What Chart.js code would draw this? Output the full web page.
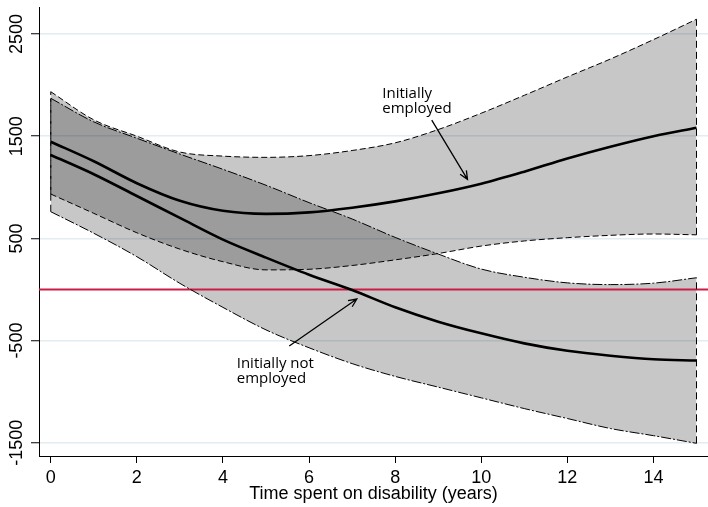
<!DOCTYPE html>
<html>
<head>
<meta charset="utf-8">
<script src="https://cdn.jsdelivr.net/npm/chart.js@4.4.0/dist/chart.umd.min.js"></script>
<style>
  html, body { margin: 0; padding: 0; background: #fff; overflow: hidden; }
  canvas { display: block; }
</style>
</head>
<body>
<canvas id="c" width="708" height="507"></canvas>
<script>
// Years since entering disability
const years = [0, 1, 2, 3, 4, 5, 6, 7, 8, 9, 10, 11, 12, 13, 14, 15];

// Initially employed: fitted effect and confidence band
const employedMean = [1446, 1255, 1040, 868, 770, 740, 755, 800, 862, 941, 1035, 1153, 1282, 1397, 1500, 1583];
const employedLow  = [934, 745, 555, 395, 272, 192, 198, 235, 290, 352, 425, 475, 507, 530, 543, 535];
const employedHigh = [1935, 1660, 1500, 1345, 1305, 1293, 1310, 1360, 1435, 1565, 1725, 1900, 2080, 2255, 2445, 2644];

// Initially not employed: fitted effect and confidence band
const notEmployedMean = [1316, 1128, 915, 700, 488, 312, 145, -5, -174, -315, -429, -527, -600, -648, -683, -695];
const notEmployedLow  = [761, 550, 321, 60, -175, -395, -570, -725, -850, -955, -1060, -1165, -1262, -1360, -1430, -1505];
const notEmployedHigh = [1871, 1640, 1480, 1325, 1176, 1020, 850, 690, 510, 347, 200, 120, 65, 48, 62, 115];

// Axis ticks and limits
const xTicks = [0, 2, 4, 6, 8, 10, 12, 14];
const yTicks = [-1500, -500, 500, 1500, 2500];
const xMin = -0.273, xMax = 15.267;
const yMin = -1629, yMax = 2764;
const referenceValue = 0;
const xTitle = 'Time spent on disability (years)';

// Callout labels, anchored in data units
const callouts = [
  { lines: ['Initially', 'employed'], text: [7.70, 1874], from: [8.85, 1658], to: [9.68, 1078] },
  { lines: ['Initially not', 'employed'], text: [4.32, -771], from: [5.54, -553], to: [7.11, -93] }
];

const pts = arr => years.map((x, i) => ({ x: x, y: arr[i] }));
const last = years.length - 1;
const edge = (i, lo, hi) => [{ x: years[i], y: lo[i] }, { x: years[i], y: hi[i] }];

const bandFill = 'rgba(0,0,0,0.22)';
const dashE = [6, 3];
const dashN = [10, 2, 2, 2];

const curve = { pointRadius: 0, cubicInterpolationMode: 'monotone', borderColor: '#000' };
const straight = { pointRadius: 0, tension: 0, borderColor: '#000', borderWidth: 1, fill: false, borderDash: [7, 4] };

// Dataset 0 is painted last, so the mean curves come first and the reference line last
const datasets = [
  Object.assign({ data: pts(employedMean), borderWidth: 2.6, fill: false }, curve),
  Object.assign({ data: pts(notEmployedMean), borderWidth: 2.6, fill: false }, curve),
  Object.assign({ data: pts(employedLow), borderWidth: 1, borderDash: dashE, fill: false }, curve),
  Object.assign({ data: pts(employedHigh), borderWidth: 1, borderDash: dashE, fill: '-1', backgroundColor: bandFill }, curve),
  Object.assign({ data: pts(notEmployedLow), borderWidth: 1, borderDash: dashN, fill: false }, curve),
  Object.assign({ data: pts(notEmployedHigh), borderWidth: 1, borderDash: dashN, fill: '-1', backgroundColor: bandFill }, curve),
  Object.assign({ data: edge(0, employedLow, employedHigh) }, straight),
  Object.assign({ data: edge(last, employedLow, employedHigh) }, straight),
  Object.assign({ data: edge(0, notEmployedLow, notEmployedHigh) }, straight),
  Object.assign({ data: edge(last, notEmployedLow, notEmployedHigh) }, straight),
  {
    data: [{ x: xMin, y: referenceValue }, { x: xMax, y: referenceValue }],
    borderColor: 'rgb(205,28,68)', backgroundColor: 'rgb(205,28,68)', borderWidth: 1.8, pointRadius: 0, tension: 0, fill: false
  }
];

// Rotated y tick labels and the arrow callouts
const decorations = {
  id: 'decorations',
  afterDraw(chart) {
    const { ctx, scales } = chart;
    const sx = scales.x, sy = scales.y;
    ctx.save();
    ctx.fillStyle = '#000';
    ctx.font = '18px "Liberation Sans", Arial, sans-serif';
    ctx.textAlign = 'center';
    ctx.textBaseline = 'middle';
    yTicks.forEach(v => {
      ctx.save();
      ctx.translate(17.5, sy.getPixelForValue(v));
      ctx.rotate(-Math.PI / 2);
      ctx.fillText(String(v), 0, 0);
      ctx.restore();
    });

    ctx.font = '15px "Open Sans", sans-serif';
    ctx.textAlign = 'left';
    ctx.textBaseline = 'alphabetic';
    ctx.fillStyle = '#000';
    callouts.forEach(c => {
      const tx = sx.getPixelForValue(c.text[0]);
      const ty = sy.getPixelForValue(c.text[1]);
      c.lines.forEach((line, i) => ctx.fillText(line, tx, ty + i * 15));

      const x0 = sx.getPixelForValue(c.from[0]), y0 = sy.getPixelForValue(c.from[1]);
      const x1 = sx.getPixelForValue(c.to[0]), y1 = sy.getPixelForValue(c.to[1]);
      const ang = Math.atan2(y1 - y0, x1 - x0);
      const head = 9, spread = 0.42;
      ctx.strokeStyle = '#000';
      ctx.lineWidth = 1.3;
      ctx.setLineDash([]);
      ctx.beginPath();
      ctx.moveTo(x0, y0);
      ctx.lineTo(x1, y1);
      ctx.moveTo(x1 - head * Math.cos(ang - spread), y1 - head * Math.sin(ang - spread));
      ctx.lineTo(x1, y1);
      ctx.lineTo(x1 - head * Math.cos(ang + spread), y1 - head * Math.sin(ang + spread));
      ctx.stroke();
    });
    ctx.restore();
  }
};

new Chart(document.getElementById('c'), {
  type: 'line',
  data: { datasets: datasets },
  plugins: [decorations],
  options: {
    responsive: false,
    animation: false,
    devicePixelRatio: 1,
    layout: { padding: { top: 7, right: 0, left: 0, bottom: 0 } },
    plugins: {
      legend: { display: false },
      tooltip: { enabled: false },
      filler: { drawTime: 'beforeDatasetsDraw' }
    },
    scales: {
      x: {
        type: 'linear',
        min: xMin,
        max: xMax,
        afterBuildTicks: s => { s.ticks = xTicks.map(v => ({ value: v })); },
        afterFit: s => { s.height = 51; },
        grid: { drawOnChartArea: false, tickLength: 7, tickColor: '#000', tickWidth: 1 },
        border: { color: '#000', width: 1 },
        ticks: {
          color: '#000',
          font: { family: '"Liberation Sans", Arial, sans-serif', size: 18 },
          padding: 4,
          maxRotation: 0,
          autoSkip: false
        },
        title: {
          display: true,
          text: xTitle,
          color: '#000',
          font: { family: '"Liberation Sans", Arial, sans-serif', size: 18 },
          padding: { top: 0, bottom: 2 }
        }
      },
      y: {
        type: 'linear',
        min: yMin,
        max: yMax,
        afterBuildTicks: s => { s.ticks = yTicks.map(v => ({ value: v })); },
        afterFit: s => { s.width = 39; },
        grid: { color: '#e3ecf0', lineWidth: 1.5, tickLength: 8, tickColor: '#000', tickWidth: 1 },
        border: { color: '#000', width: 1 },
        ticks: { display: false }
      }
    }
  }
});
</script>
</body>
</html>
